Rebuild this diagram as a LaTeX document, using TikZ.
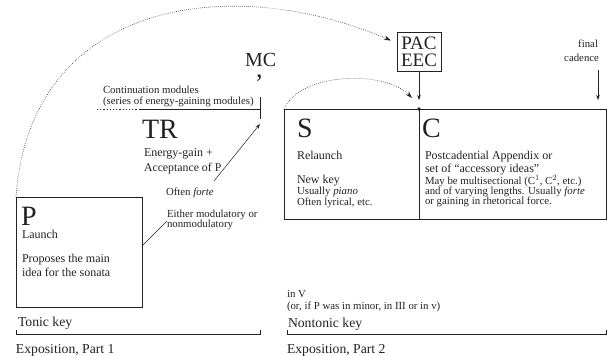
\documentclass[tikz,border=0pt]{standalone}
\usepackage{fontspec}
\setmainfont{Liberation Serif}
\usetikzlibrary{arrows.meta,calc}
\definecolor{ink}{HTML}{222222}
\begin{document}
\begin{tikzpicture}[x=1pt,y=-1pt,
  every node/.style={inner sep=0pt, outer sep=0pt, text=ink},
  lbl/.style={anchor=base west},
  big/.style={lbl, font=\fontsize{28}{28}\selectfont},
  med/.style={lbl, font=\fontsize{12}{14}\selectfont},
  sml/.style={lbl, font=\fontsize{10.8}{12}\selectfont},
  key/.style={lbl, font=\fontsize{13.7}{15}\selectfont},
  frame/.style={draw=ink, line width=0.6pt},
  thin/.style={draw=ink, line width=0.6pt},
  arr/.style={draw=ink, line width=0.5pt, -{Stealth[length=5pt,width=3.5pt]}},
  dots/.style={draw=ink, line width=0.6pt, dash pattern=on 0.6pt off 1.4pt, -{Stealth[length=7pt,width=4.5pt]}},
]
\useasboundingbox (0,0) rectangle (608,356);

% ---------- P box ----------
\node[frame, anchor=north west, minimum width=126pt, minimum height=110pt] (P) at (16,197) {};
\node[big] (Pl) at (21,225) {P};
\node[med] (Pl2) at (22,238) {Launch};
\node[med] (Pl3) at (22,262) {Proposes the main};
\node[med] (Pl4) at (22,276) {idea for the sonata};

% ---------- TR ----------
\coordinate (cm0) at (97,109);
\coordinate (cm1) at (140,109);
\coordinate (mc) at (260,109);
\coordinate (mctop) at (260,97);
\coordinate (mcbot) at (260,119);
\coordinate (mcarr) at (260,124);
\coordinate (gapb) at (214,181);
\draw[ink, line width=0.6pt, dash pattern=on 1.2pt off 2pt] (cm0) -- (cm1);
\draw[thin] (cm1) -- (mc);
\draw[thin] (mctop) -- (mcbot);
\node[sml] (cont1) at (103,93) {Continuation modules};
\node[sml] (cont2) at (103,104) {(series of energy-gaining modules)};
\node[lbl, font=\fontsize{20}{20}\selectfont] (MC) at (245,66) {MC};
\node[lbl, font=\fontsize{26}{26}\selectfont] (comma) at (256,77) {,};
\node[big] (TR) at (142,138) {TR};
\node[med] (tr1) at (144,156) {Energy-gain +};
\node[lbl, font=\fontsize{11.8}{14}\selectfont] (tr2) at (144,171) {Acceptance of P};
\node[sml] (tr3) at (166,195) {Often \textit{forte}};
\node[sml] (tr4) at (167,217) {Either modulatory or};
\node[sml] (tr5) at (167,227) {nonmodulatory};
\coordinate (pe) at ([yshift=6pt]P.east);
\draw[thin, line width=0.5pt] (pe) -- ($(pe)+(25,-25)$);
\draw[arr] (gapb) -- (mcarr);

% ---------- S / C boxes ----------
\node[frame, anchor=north west, minimum width=135pt, minimum height=110pt] (S) at (284,109) {};
\node[frame, anchor=north west, minimum width=187.5pt, minimum height=110pt] (C) at (419,109) {};
\node[circle, fill=ink, minimum size=3.6pt] (dot) at (S.north east) {};
\node[big] (Sl) at (297,137) {S};
\node[med] (S1) at (297,159) {Relaunch};
\node[med] (S2) at (297,183) {New key};
\node[sml] (S3) at (297,194) {Usually \textit{piano}};
\node[sml] (S4) at (297,205) {Often lyrical, etc.};
\node[big] (Cl) at (422,137) {C};
\node[med] (C1) at (425,159) {Postcadential Appendix or};
\node[med] (C2) at (425,172) {set of “accessory ideas”};
\node[sml] (C3) at (425,184) {May be multisectional (C$^1$, C$^2$, etc.)};
\node[sml] (C4) at (425,194) {and of varying lengths. Usually \textit{forte}};
\node[sml] (C5) at (425,204) {or gaining in rhetorical force.};

% ---------- PAC / EEC ----------
\node[frame, minimum width=44pt, minimum height=39pt, align=center,
      font=\fontsize{19}{17}\selectfont] (pac) at (419,51.5) {PAC\\EEC};
\draw[arr] (pac.south) -- ([yshift=9pt]dot.center);

% ---------- final cadence ----------
\node[sml, anchor=base east] (fin) at (598,47) {final};
\node[sml, anchor=base east] (cad) at (599,61) {cadence};
\coordinate (fc1) at (598,100);
\draw[arr] ([yshift=-9pt]cad.south -| fc1) -- (fc1);

% ---------- dotted curves ----------
\draw[dots] (P.north west) .. controls (30,0) and (230,-28) .. ([xshift=-6pt,yshift=11pt]pac.west);
\draw[dots] (S.north west) .. controls (300,72) and (385,70) .. ([xshift=-7pt,yshift=11pt]dot.center);

% ---------- keys and brackets ----------
\node[key] (tk) at (18,326) {Tonic key};
\draw[thin] (16,330) -- (16,334) -- (260,334) -- (260,330);
\node[key] (ex1) at (16,353) {Exposition, Part 1};

\node[sml] (inV) at (287,297) {in V};
\node[sml] (orP) at (287,309) {(or, if P was in minor, in III or in v)};
\node[key] (ntk) at (288,327) {Nontonic key};
\draw[thin] (287,330) -- (287,334) -- (606,334) -- (606,330);
\node[key] (ex2) at (287,353) {Exposition, Part 2};
\end{tikzpicture}
\end{document}
